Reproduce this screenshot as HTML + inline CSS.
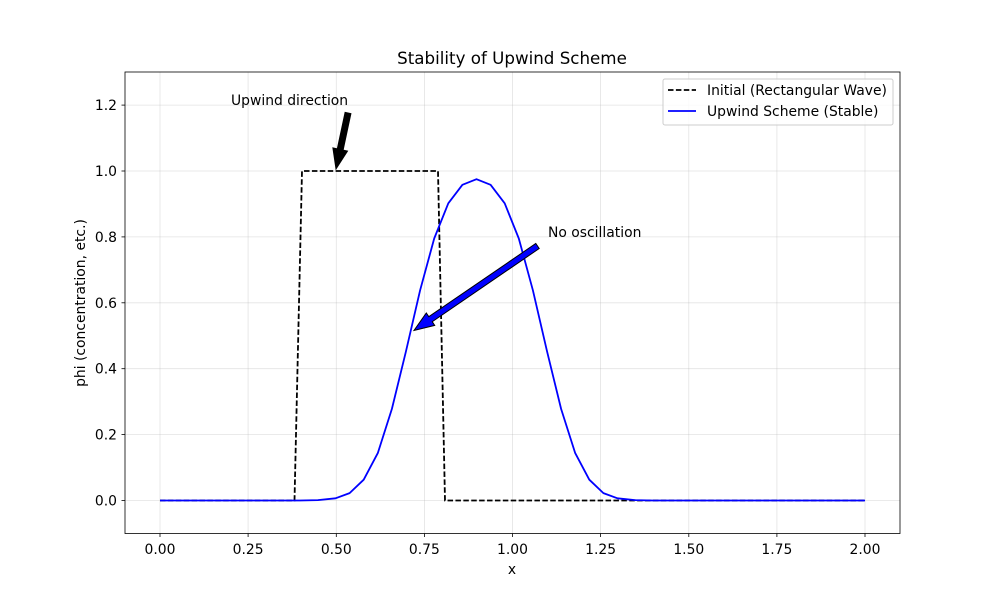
<!DOCTYPE html>
<html><head><meta charset="utf-8"><style>body{margin:0;background:#fff}svg{display:block;font-family:"DejaVu Sans","Liberation Sans",sans-serif}</style></head>
<body>
<svg width="1000" height="600" xmlns="http://www.w3.org/2000/svg">
<rect width="1000" height="600" fill="#fff"/>
<g stroke="#b0b0b0" stroke-width="0.8" stroke-opacity="0.35">
<line x1="160" y1="72" x2="160" y2="533.5"/><line x1="248.1" y1="72" x2="248.1" y2="533.5"/><line x1="336.3" y1="72" x2="336.3" y2="533.5"/><line x1="424.4" y1="72" x2="424.4" y2="533.5"/><line x1="512.5" y1="72" x2="512.5" y2="533.5"/><line x1="600.6" y1="72" x2="600.6" y2="533.5"/><line x1="688.8" y1="72" x2="688.8" y2="533.5"/><line x1="776.9" y1="72" x2="776.9" y2="533.5"/><line x1="865" y1="72" x2="865" y2="533.5"/>
<line x1="125" y1="500.5" x2="900" y2="500.5"/><line x1="125" y1="434.6" x2="900" y2="434.6"/><line x1="125" y1="368.7" x2="900" y2="368.7"/><line x1="125" y1="302.8" x2="900" y2="302.8"/><line x1="125" y1="236.9" x2="900" y2="236.9"/><line x1="125" y1="171" x2="900" y2="171"/><line x1="125" y1="105.1" x2="900" y2="105.1"/>
</g>
<g stroke="#000" stroke-width="0.8">
<line x1="160" y1="533.5" x2="160" y2="537"/><line x1="248.1" y1="533.5" x2="248.1" y2="537"/><line x1="336.3" y1="533.5" x2="336.3" y2="537"/><line x1="424.4" y1="533.5" x2="424.4" y2="537"/><line x1="512.5" y1="533.5" x2="512.5" y2="537"/><line x1="600.6" y1="533.5" x2="600.6" y2="537"/><line x1="688.8" y1="533.5" x2="688.8" y2="537"/><line x1="776.9" y1="533.5" x2="776.9" y2="537"/><line x1="865" y1="533.5" x2="865" y2="537"/>
<line x1="121.5" y1="500.5" x2="125" y2="500.5"/><line x1="121.5" y1="434.6" x2="125" y2="434.6"/><line x1="121.5" y1="368.7" x2="125" y2="368.7"/><line x1="121.5" y1="302.8" x2="125" y2="302.8"/><line x1="121.5" y1="236.9" x2="125" y2="236.9"/><line x1="121.5" y1="171" x2="125" y2="171"/><line x1="121.5" y1="105.1" x2="125" y2="105.1"/>
</g>
<g font-size="13.9" text-anchor="middle">
<text x="160" y="554">0.00</text><text x="248.1" y="554">0.25</text><text x="336.3" y="554">0.50</text><text x="424.4" y="554">0.75</text><text x="512.5" y="554">1.00</text><text x="600.6" y="554">1.25</text><text x="688.8" y="554">1.50</text><text x="776.9" y="554">1.75</text><text x="865" y="554">2.00</text>
</g>
<g font-size="13.9" text-anchor="end">
<text x="117" y="505.5">0.0</text><text x="117" y="439.6">0.2</text><text x="117" y="373.7">0.4</text><text x="117" y="307.8">0.6</text><text x="117" y="241.9">0.8</text><text x="117" y="176">1.0</text><text x="117" y="110.1">1.2</text>
</g>
<path d="M160,500.5 L294.5,500.5 L302,171 L438,171 L445,500.5 L865,500.5" fill="none" stroke="#000" stroke-width="1.8" stroke-dasharray="5.5,2.4"/>
<path d="M160,500.5 L300,500.5 L317.9,500.1 L335.5,498.3 L349.6,493.1 L363.7,479.7 L377.8,453.1 L391.9,408.9 L406,351.2 L420.1,290.3 L434.2,238.5 L448.3,203.3 L462.4,184.8 L476.5,179.2 L490.6,184.8 L504.7,203.3 L518.8,238.5 L532.9,290.3 L547,351.2 L561.1,408.9 L575.2,453.1 L589.3,479.7 L603.4,493.1 L617.5,498.3 L635.1,500.1 L652.8,500.5 L865,500.5" fill="none" stroke="#0000ff" stroke-width="1.8" stroke-linejoin="round"/>
<rect x="125" y="72" width="775" height="461.5" fill="none" stroke="#000" stroke-width="0.8"/>
<text x="512" y="64" font-size="16.7" text-anchor="middle">Stability of Upwind Scheme</text>
<text x="512" y="574" font-size="13.9" text-anchor="middle">x</text>
<text transform="translate(85,303) rotate(-90)" font-size="13.9" text-anchor="middle">phi (concentration, etc.)</text>
<text x="231" y="105" font-size="13.9">Upwind direction</text>
<polygon points="345.1,112.4 350.9,113.6 343.1,150.1 347.5,151.1 336,169 332.9,147.9 337.3,148.9" fill="#000" stroke="#000"/>
<text x="548" y="237" font-size="13.9">No oscillation</text>
<polygon points="535.8,243.5 539.2,248.5 432.2,321.7 434.7,325.4 414,330.5 426.3,313 428.8,316.7" fill="#0000ff" stroke="#000"/>
<rect x="663" y="79" width="230" height="46" fill="#fff" fill-opacity="0.8" stroke="#ccc" rx="2"/>
<line x1="668" y1="90" x2="696" y2="90" stroke="#000" stroke-width="1.8" stroke-dasharray="5.5,2.4"/>
<text x="707" y="95" font-size="13.9">Initial (Rectangular Wave)</text>
<line x1="668" y1="111" x2="696" y2="111" stroke="#0000ff" stroke-width="1.8"/>
<text x="707" y="116" font-size="13.9">Upwind Scheme (Stable)</text>
</svg>
</body></html>
